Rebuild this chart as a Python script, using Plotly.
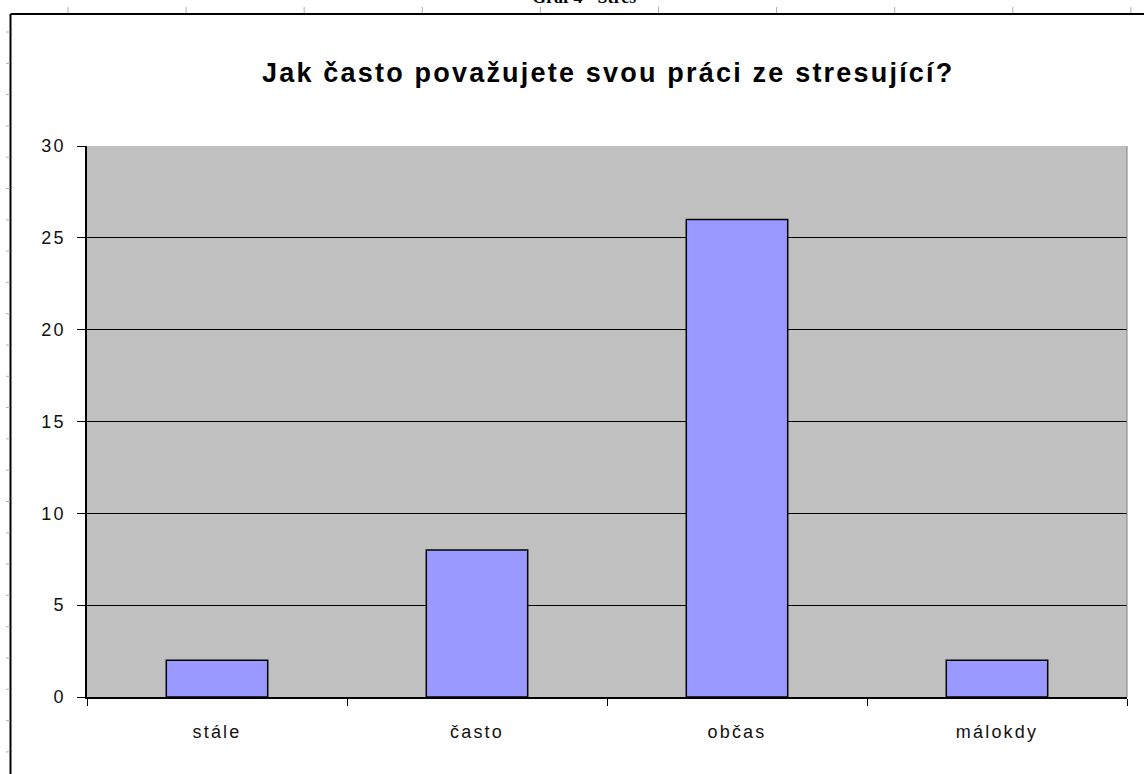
import plotly.graph_objects as go

categories = ["stále", "často", "občas", "málokdy"]
values = [2, 8, 26, 2]
y_ticks = [0, 5, 10, 15, 20, 25, 30]
title_text = "Jak často považujete svou práci ze stresující?"
caption_text = "Graf 4 - Stres"

W, H = 1144, 774
L, R, T, B = 87, 1127, 146, 697
pw, ph = R - L, B - T

def px(x):
    return (x - L) / pw

def py(y):
    return (B - y) / ph

def spaced(s, sp):
    return f'<span style="letter-spacing:{sp}px">{s}</span>'

fig = go.Figure()
fig.add_trace(go.Bar(
    x=categories, y=values,
    marker=dict(color="#9999FF", line=dict(color="black", width=1.5)),
    width=0.39,
))

shapes = []
# document frame
shapes.append(dict(type="line", xref="paper", yref="paper",
                   x0=px(10.5), x1=px(1150), y0=py(14), y1=py(14),
                   line=dict(color="black", width=2)))
shapes.append(dict(type="line", xref="paper", yref="paper",
                   x0=px(10.5), x1=px(10.5), y0=py(14), y1=py(790),
                   line=dict(color="black", width=2)))
# ruler ticks (top)
for k in range(10):
    x = 68 + 118.1 * k
    shapes.append(dict(type="line", xref="paper", yref="paper",
                       x0=px(x), x1=px(x), y0=py(7), y1=py(13),
                       line=dict(color="#b0b0b0", width=1)))
# ruler ticks (left)
for k in range(24):
    y = 32 + 31.3 * k
    shapes.append(dict(type="line", xref="paper", yref="paper",
                       x0=px(6), x1=px(10), y0=py(y), y1=py(y),
                       line=dict(color="#b0b0b0", width=1)))
# plot area right border
shapes.append(dict(type="line", xref="paper", yref="paper",
                   x0=1, x1=1, y0=0, y1=1, line=dict(color="#808080", width=1)))

fig.update_layout(
    width=W, height=H,
    margin=dict(l=L, r=W - R, t=T, b=H - B),
    paper_bgcolor="white",
    plot_bgcolor="#C0C0C0",
    showlegend=False,
    shapes=shapes,
    font=dict(family="Liberation Sans, Arial, sans-serif", color="black"),
    annotations=[
        dict(text="<b>" + spaced(title_text, 2.2) + "</b>",
             xref="paper", yref="paper", x=px(608), y=py(73),
             xanchor="center", yanchor="middle", showarrow=False,
             font=dict(size=27, family="Liberation Sans, Arial, sans-serif", color="black")),
        dict(text="<b>" + caption_text + "</b>",
             xref="paper", yref="paper", x=px(584), y=py(-3),
             xanchor="center", yanchor="middle", showarrow=False,
             font=dict(size=18, family="Liberation Serif, Times New Roman, serif", color="black")),
    ],
    bargap=0.6,
)

fig.update_xaxes(
    type="category", tickson="boundaries",
    tickvals=categories, ticktext=[spaced(c, 2.2) for c in categories],
    ticks="outside", ticklen=7, tickcolor="black", tickwidth=1,
    showline=True, linecolor="black", linewidth=1.5,
    showgrid=False,
    tickfont=dict(size=18, color="#111111"),
    ticklabelstandoff=18,
)
fig.update_yaxes(
    range=[0, 30], tickvals=y_ticks, ticktext=[spaced(str(v), 2.2) for v in y_ticks],
    ticks="outside", ticklen=8, tickcolor="black", tickwidth=1,
    showline=True, linecolor="black", linewidth=1.5,
    showgrid=True, gridcolor="black", gridwidth=1,
    zeroline=False,
    tickfont=dict(size=18, color="#111111"),
    ticklabelstandoff=8,
)

fig.write_html("out.html")
